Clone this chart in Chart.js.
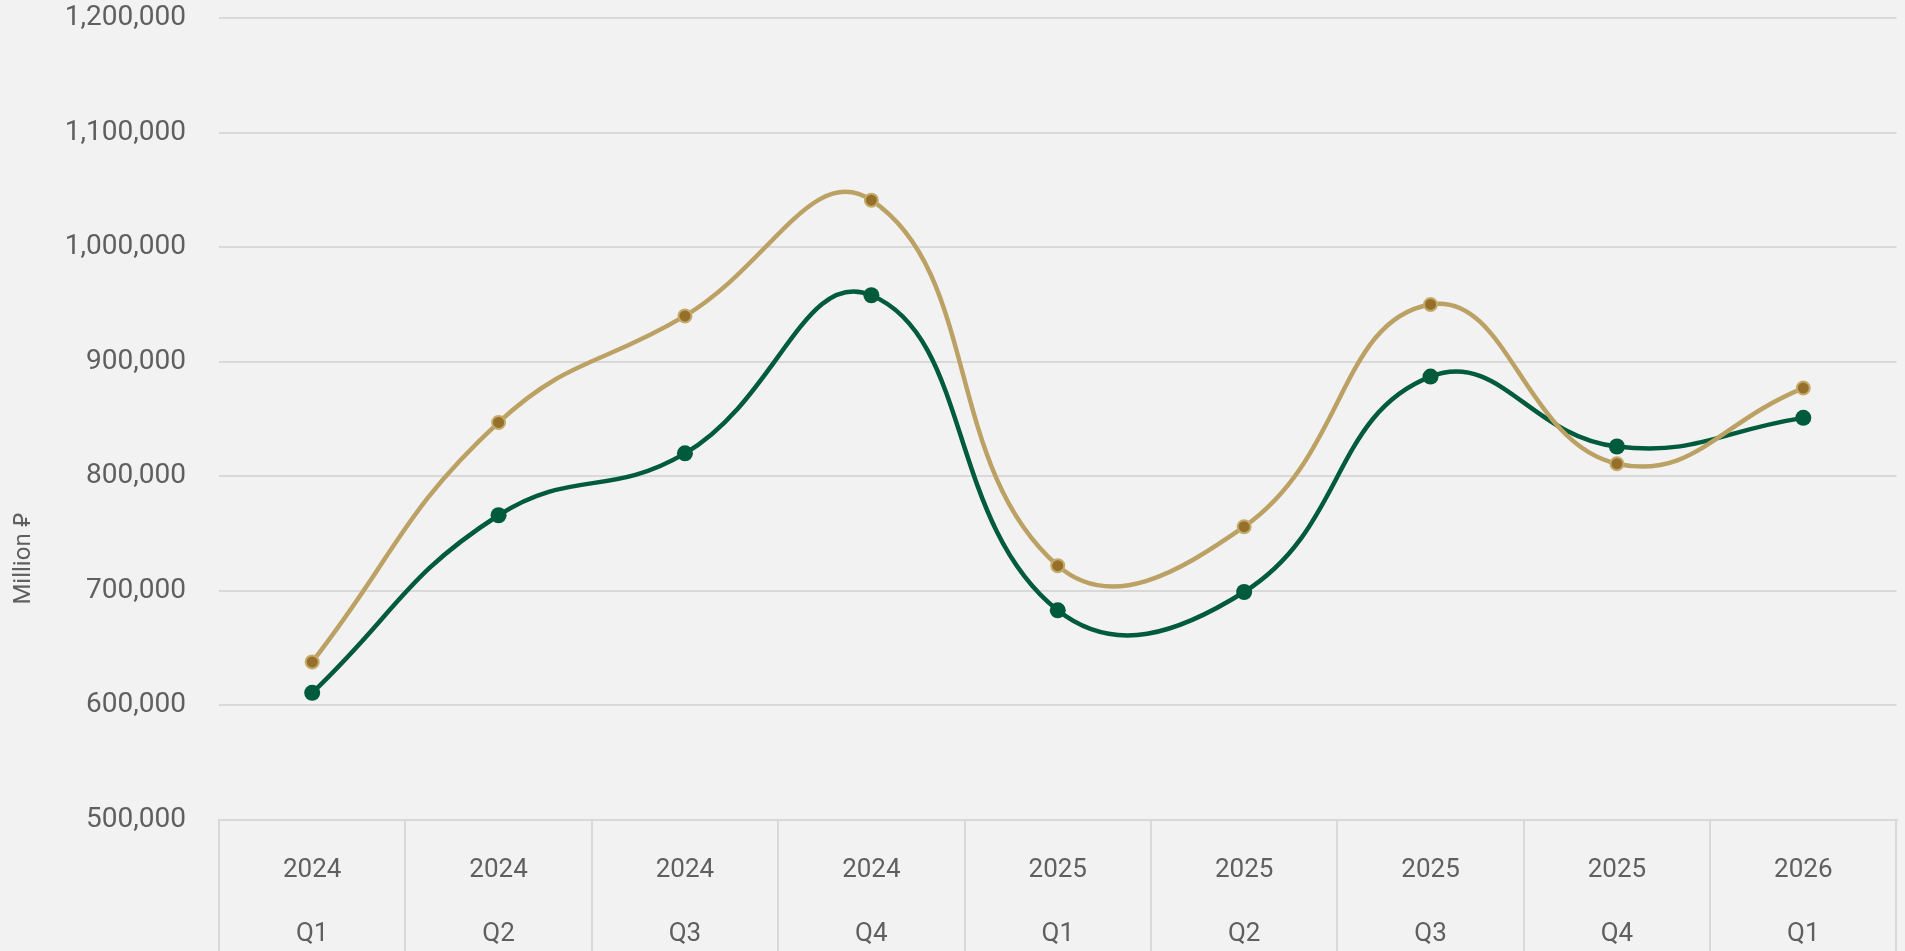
<!DOCTYPE html>
<html>
<head>
<meta charset="utf-8">
<script src="https://cdn.jsdelivr.net/npm/chart.js@4/dist/chart.umd.min.js"></script>
<style>
    html, body {
        margin: 0;
        padding: 0;
        background: #f2f2f2;
        overflow: hidden;
    }
    #wrap {
        width: 1905px;
        height: 951px;
    }
</style>
</head>
<body>
<div id="wrap"><canvas id="chart"></canvas></div>
<script>
// 数据
const years = ['2024', '2024', '2024', '2024', '2025', '2025', '2025', '2025', '2026'];
const quarters = ['Q1', 'Q2', 'Q3', 'Q4', 'Q1', 'Q2', 'Q3', 'Q4', 'Q1'];
const goldValues = [638000, 847000, 940000, 1041000, 722000, 756000, 950000, 811000, 877000];
const greenValues = [611000, 766000, 820000, 958000, 683000, 699000, 887000, 826000, 851000];
const yTicks = [500000, 600000, 700000, 800000, 900000, 1000000, 1100000, 1200000];
const yTitle = 'Million \u20C1';

const labels = years.map((y, i) => [y, quarters[i]]);
const textColor = '#5f5f5f';
const gridColor = '#d9d9d9';
const fontFamily = 'Roboto, "Noto Sans", sans-serif';

// y轴标题 (手动绘制位置)
const yTitlePlugin = {
    id: 'yTitle',
    afterDraw(chart) {
        const ctx = chart.ctx;
        ctx.save();
        ctx.translate(24, 559);
        ctx.rotate(-Math.PI / 2);
        ctx.font = '24px ' + fontFamily;
        ctx.fillStyle = textColor;
        ctx.textAlign = 'center';
        ctx.textBaseline = 'middle';
        ctx.fillText(yTitle, 0, 0);
        ctx.restore();
    }
};

new Chart(document.getElementById('chart'), {
    type: 'line',
    data: {
        labels: labels,
        datasets: [{
            label: 'Gold',
            data: goldValues,
            borderColor: '#bba264',
            borderWidth: 4.5,
            tension: 0.45,
            pointRadius: 6.5,
            pointBorderWidth: 2,
            pointBackgroundColor: '#96702a',
            pointBorderColor: '#c4ab6c',
            fill: false
        }, {
            label: 'Green',
            data: greenValues,
            borderColor: '#005a3c',
            borderWidth: 4.5,
            tension: 0.45,
            pointRadius: 8,
            pointBorderWidth: 0,
            pointBackgroundColor: '#005a3c',
            pointBorderColor: '#005a3c',
            fill: false
        }]
    },
    options: {
        responsive: true,
        maintainAspectRatio: false,
        animation: false,
        layout: {
            padding: { top: 18, right: 3, left: 0, bottom: 0 }
        },
        plugins: {
            legend: { display: false },
            tooltip: { enabled: false }
        },
        scales: {
            x: {
                offset: true,
                afterFit(scale) {
                    scale.height = 131;
                    scale.paddingLeft = 0;
                    scale.paddingRight = 0;
                    scale.paddingTop = 0;
                    scale.paddingBottom = 0;
                },
                grid: {
                    display: true,
                    offset: true,
                    drawOnChartArea: false,
                    color: gridColor,
                    lineWidth: 2,
                    tickLength: 131
                },
                border: { display: true, color: gridColor, width: 2 },
                ticks: {
                    color: textColor,
                    padding: -112,
                    maxRotation: 0,
                    autoSkip: false,
                    font: { family: fontFamily, size: 26, lineHeight: 2.46 }
                }
            },
            y: {
                min: 500000,
                max: 1200000,
                afterFit(scale) {
                    scale.width = 219;
                    scale.paddingTop = 0;
                    scale.paddingBottom = 0;
                },
                afterBuildTicks(scale) {
                    scale.ticks = yTicks.map(v => ({ value: v }));
                },
                grid: {
                    color: gridColor,
                    lineWidth: 2,
                    drawTicks: false
                },
                border: { display: false },
                ticks: {
                    color: textColor,
                    padding: 33,
                    font: { family: fontFamily, size: 28 },
                    callback: v => v.toLocaleString('en-US')
                }
            }
        }
    },
    plugins: [yTitlePlugin]
});
</script>
</body>
</html>
